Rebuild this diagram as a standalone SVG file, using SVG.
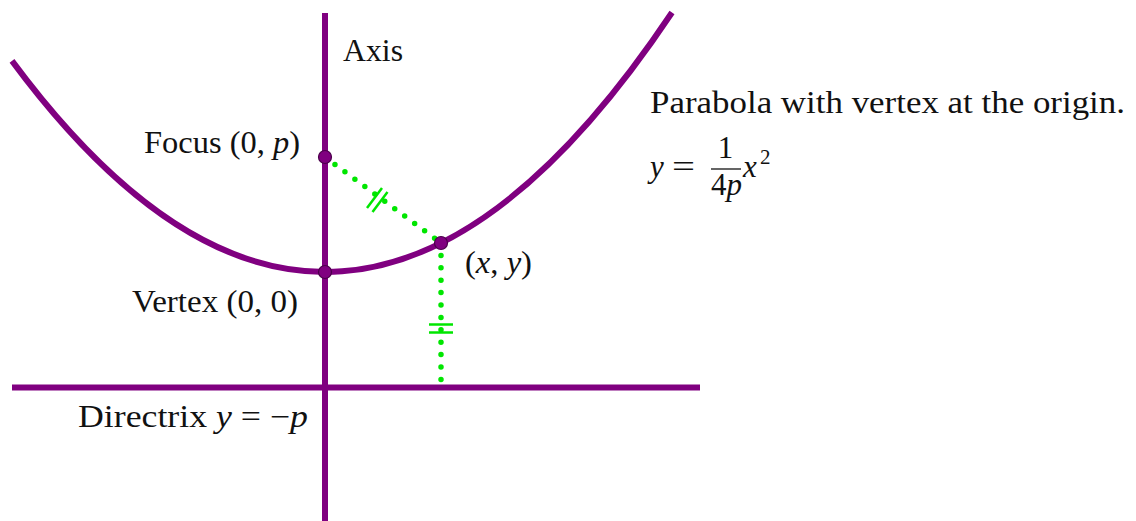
<svg xmlns="http://www.w3.org/2000/svg" width="1136" height="521" viewBox="0 0 1136 521">
<style>
.curve{fill:none;stroke:#800080;stroke-width:6}
.line{stroke:#800080;stroke-width:6}
.dots{stroke:#00e600;stroke-width:5.5;stroke-linecap:round;stroke-dasharray:0 12.4;fill:none}
.tick{stroke:#00e600;stroke-width:2.5}
.pt{fill:#800080;stroke:#4a004a;stroke-width:1.2}
text{font-family:"Liberation Serif","Times New Roman",serif;font-size:31px;fill:#111}
.m{font-style:italic}
</style>
<rect width="1136" height="521" fill="#fff"/>
<g id="axis"><line class="line" x1="325" y1="13" x2="325" y2="521"/></g>
<g id="directrix"><line class="line" x1="12" y1="387.5" x2="700" y2="387.5"/></g>
<g id="parabola"><path class="curve" d="M12,60.9 Q342,506 672,12.5"/></g>
<g id="connectors">
<line class="dots" x1="325" y1="157" x2="441" y2="243"/>
<line class="dots" x1="441" y1="243" x2="441" y2="388"/>
<line class="tick" x1="367" y1="208" x2="382" y2="188"/>
<line class="tick" x1="372.5" y1="212" x2="387.5" y2="192"/>
<line class="tick" x1="429" y1="324.5" x2="453" y2="324.5"/>
<line class="tick" x1="429" y1="332.5" x2="453" y2="332.5"/>
</g>
<g id="focus"><circle class="pt" cx="325" cy="157" r="6.5"/><text x="144" y="153" textLength="156" lengthAdjust="spacingAndGlyphs">Focus (0, <tspan class="m">p</tspan>)</text></g>
<g id="vertex"><circle class="pt" cx="325" cy="272" r="6.5"/><text x="132" y="312" textLength="166" lengthAdjust="spacingAndGlyphs">Vertex (0, 0)</text></g>
<g id="point"><circle class="pt" cx="441" cy="243" r="6.5"/><text x="465" y="273" textLength="67" lengthAdjust="spacingAndGlyphs">(<tspan class="m">x</tspan>, <tspan class="m">y</tspan>)</text></g>
<g id="axis-label"><text x="343" y="61" textLength="60" lengthAdjust="spacingAndGlyphs">Axis</text></g>
<g id="directrix-label"><text x="78" y="427" textLength="230" lengthAdjust="spacingAndGlyphs">Directrix <tspan class="m">y</tspan> = −<tspan class="m">p</tspan></text></g>
<g id="title"><text x="650" y="113" textLength="475" lengthAdjust="spacingAndGlyphs">Parabola with vertex at the origin.</text></g>
<g id="equation">
<text x="650" y="177" class="m">y</text>
<text x="672" y="177" textLength="23" lengthAdjust="spacingAndGlyphs">=</text>
<text x="725.5" y="158" text-anchor="middle">1</text>
<line x1="711" y1="169" x2="741" y2="169" stroke="#111" stroke-width="1.3"/>
<text x="711" y="195" textLength="31" lengthAdjust="spacingAndGlyphs">4<tspan class="m">p</tspan></text>
<text x="743" y="177" class="m">x</text>
<text x="760" y="164" style="font-size:21px">2</text>
</g>
</svg>
